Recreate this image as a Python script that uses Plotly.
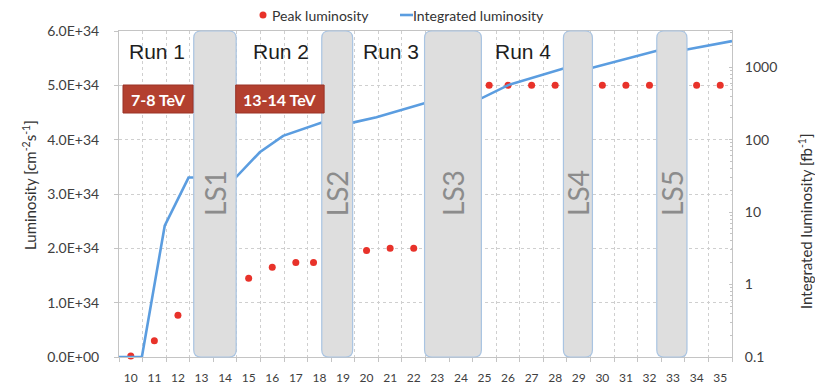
import plotly.graph_objects as go

# ---- data -------------------------------------------------------------
# Peak luminosity per year (x = year - 2000), cm^-2 s^-1
peak_years = [10, 11, 12, 15, 16, 17, 17.75, 20, 21, 22,
              25.2, 26, 27, 28, 30, 31, 32, 34, 35]
peak_lumi = [0.02e34, 0.30e34, 0.77e34, 1.45e34, 1.65e34, 1.74e34, 1.74e34,
             1.96e34, 2.00e34, 2.00e34,
             5.0e34, 5.0e34, 5.0e34, 5.0e34, 5.0e34, 5.0e34, 5.0e34, 5.0e34, 5.0e34]

# Integrated luminosity, fb^-1 (log scale)
int_years = [9.5, 10.47, 11.44, 12.45, 14.45, 15.47, 16.46, 18.1, 19.41, 20.42,
             22.45, 24.87, 26.01, 28.35, 29.58, 32.31, 33.59, 35.5]
int_lumi = [0.1, 0.1, 6.5, 30, 30, 67, 113, 172, 172, 204,
            317, 372, 566, 962, 986, 1683, 1758, 2291]

# Long shutdowns (start, end, label)
shutdowns = [(12.67, 14.47, "LS1"), (18.10, 19.41, "LS2"), (22.46, 24.87, "LS3"),
             (28.35, 29.58, "LS4"), (32.31, 33.59, "LS5")]

# Run labels (x position, text)
runs = [(11.1, "Run 1"), (16.35, "Run 2"), (21.05, "Run 3"), (26.65, "Run 4")]

# Beam energy tags (x0, x1, text)
energies = [(9.67, 12.64, "7-8 TeV"), (14.45, 18.20, "13-14 TeV")]

x_ticks = list(range(10, 36))
y_ticks = [0, 1e34, 2e34, 3e34, 4e34, 5e34, 6e34]
y_ticktext = ["0.0E+00", "1.0E+34", "2.0E+34", "3.0E+34", "4.0E+34", "5.0E+34", "6.0E+34"]
y2_ticks = [0.1, 1, 10, 100, 1000]
y2_ticktext = ["0.1", "1", "10", "100", "1000"]

# ---- styling ------------------------------------------------------------
W, H = 815, 385
ML, MR, MT, MB = 119, 83, 31, 28
PW, PH = W - ML - MR, H - MT - MB
PX_PER_X = PW / (35.5 - 9.5)

RED = "#e8322a"
BLUE = "#5b9de0"
GRID = "#cfcfcf"
AXIS = "#c4c4c4"
TXT = "#404040"
FONT = "Lato"


def px_to_paper_x(px):
    return (px - ML) / PW


def px_to_paper_y(py):
    return (H - MB - py) / PH


def note(**kw):
    kw.setdefault("showarrow", False)
    kw.setdefault("xanchor", "center")
    kw.setdefault("yanchor", "middle")
    return dict(**kw)


fig = go.Figure()

fig.add_trace(go.Scatter(
    x=int_years, y=int_lumi, yaxis="y2", mode="lines",
    line=dict(color=BLUE, width=2.6), name="Integrated luminosity",
    showlegend=False, hoverinfo="skip"))

fig.add_trace(go.Scatter(
    x=peak_years, y=peak_lumi, mode="markers",
    marker=dict(color=RED, size=7), name="Peak luminosity",
    showlegend=False, cliponaxis=False))

shapes = []
annotations = []

# Rounded shutdown bars spanning the full plot height
r_px = 7
rx = r_px / PX_PER_X
ry = r_px / PH
for x0, x1, label in shutdowns:
    path = (f"M {x0},{ry} L {x0},{1 - ry} Q {x0},1 {x0 + rx},1 "
            f"L {x1 - rx},1 Q {x1},1 {x1},{1 - ry} "
            f"L {x1},{ry} Q {x1},0 {x1 - rx},0 "
            f"L {x0 + rx},0 Q {x0},0 {x0},{ry} Z")
    shapes.append(dict(type="path", path=path, xref="x", yref="paper",
                       fillcolor="#dedede", line=dict(color="#a9c4e2", width=1.2),
                       layer="above"))
    annotations.append(note(x=(x0 + x1) / 2, y=0.503, xref="x", yref="paper",
                            text=label, textangle=-90,
                            font=dict(family=FONT, size=28, color="#8c8c8c")))

# Energy tags
for x0, x1, label in energies:
    shapes.append(dict(type="rect", xref="x", yref="paper",
                       x0=x0, x1=x1,
                       y0=px_to_paper_y(113), y1=px_to_paper_y(85),
                       fillcolor="#b3402f", line=dict(color="#9a3326", width=1),
                       layer="above"))
    annotations.append(note(x=(x0 + x1) / 2, y=px_to_paper_y(99), xref="x", yref="paper",
                            text=f"<b>{label}</b>",
                            font=dict(family=FONT, size=16, color="white")))

# Run labels
for x, label in runs:
    annotations.append(note(x=x, y=px_to_paper_y(52), xref="x", yref="paper",
                            text=label,
                            font=dict(family="Liberation Sans, Arial", size=21, color="#1e1e1e")))

# Legend
leg_y = px_to_paper_y(15)
shapes.append(dict(type="circle", xref="paper", yref="paper",
                   xsizemode="pixel", ysizemode="pixel",
                   xanchor=px_to_paper_x(263), yanchor=leg_y,
                   x0=-3.5, x1=3.5, y0=-3.5, y1=3.5,
                   fillcolor=RED, line=dict(width=0)))
annotations.append(note(x=px_to_paper_x(270), y=leg_y, xref="paper", yref="paper",
                        xanchor="left", text="Peak luminosity",
                        font=dict(family=FONT, size=14, color="#333333")))
shapes.append(dict(type="line", xref="paper", yref="paper",
                   x0=px_to_paper_x(400), x1=px_to_paper_x(413), y0=leg_y, y1=leg_y,
                   line=dict(color=BLUE, width=2.6)))
annotations.append(note(x=px_to_paper_x(411), y=leg_y, xref="paper", yref="paper",
                        xanchor="left", text="Integrated luminosity",
                        font=dict(family=FONT, size=14, color="#333333")))

# Axis titles
annotations.append(note(x=px_to_paper_x(29), y=px_to_paper_y(185), xref="paper", yref="paper",
                        text="Luminosity [cm<sup>-2</sup>s<sup>-1</sup>]",
                        textangle=-90, font=dict(family=FONT, size=15, color="#333333")))
annotations.append(note(x=px_to_paper_x(805), y=px_to_paper_y(221), xref="paper", yref="paper",
                        text="Integrated luminosity [fb<sup>-1</sup>]",
                        textangle=-90, font=dict(family=FONT, size=15, color="#333333")))

fig.update_layout(
    width=W, height=H,
    margin=dict(l=ML, r=MR, t=MT, b=MB, pad=0, autoexpand=False),
    paper_bgcolor="white", plot_bgcolor="white",
    showlegend=False,
    shapes=shapes, annotations=annotations,
    xaxis=dict(
        range=[9.5, 35.5], tickmode="array", tickvals=x_ticks,
        ticktext=[str(v) for v in x_ticks], showgrid=False, ticks="",
        tickfont=dict(family=FONT, size=12, color=TXT),
        ticklabelstandoff=10, automargin=False,
        showline=True, linecolor=AXIS, linewidth=1, mirror=True, zeroline=False,
        minor=dict(tick0=9.5, dtick=1, showgrid=True, gridcolor=GRID,
                   griddash="dot", gridwidth=1, ticks="outside", ticklen=4,
                   tickcolor=AXIS),
    ),
    yaxis=dict(
        range=[0, 6e34], tickmode="array", tickvals=y_ticks, ticktext=y_ticktext,
        showgrid=True, gridcolor=GRID, griddash="dot", gridwidth=1,
        ticks="outside", ticklen=4, tickcolor=AXIS,
        tickfont=dict(family=FONT, size=14, color=TXT),
        ticklabelstandoff=12, automargin=False,
        showline=True, linecolor=AXIS, linewidth=1, zeroline=False,
    ),
    yaxis2=dict(
        type="log", range=[-1, 3.5], overlaying="y", side="right",
        tickmode="array", tickvals=y2_ticks, ticktext=y2_ticktext,
        showgrid=False, ticks="inside", ticklen=3, tickcolor=AXIS,
        tickfont=dict(family=FONT, size=14, color=TXT),
        ticklabelstandoff=9, automargin=False,
        showline=True, linecolor=AXIS, linewidth=1, zeroline=False,
        minor=dict(ticks="inside", ticklen=2, tickcolor=AXIS, dtick="D1"),
    ),
)

fig.write_html("out.html")
